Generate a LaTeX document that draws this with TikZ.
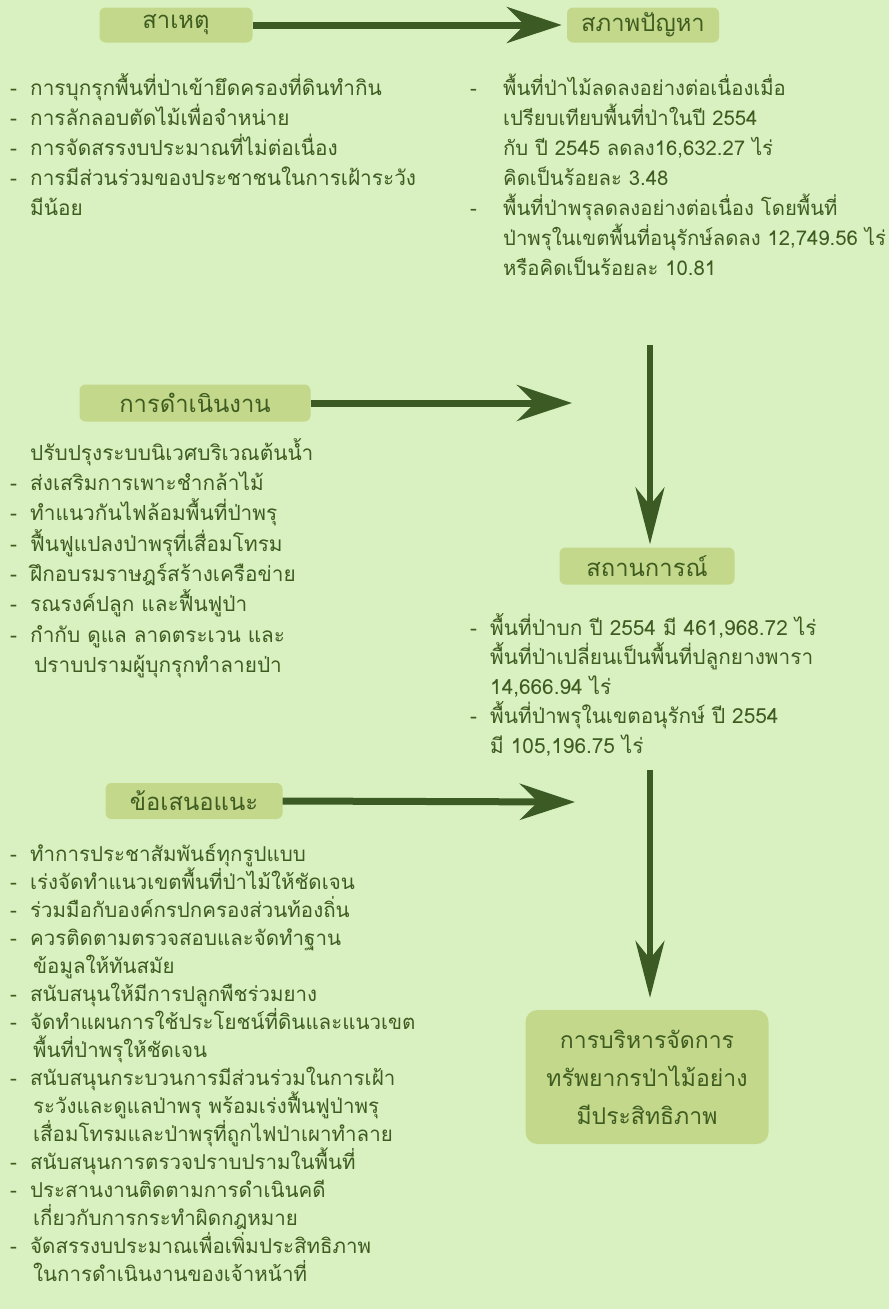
\documentclass[tikz,border=0pt]{standalone}
\usepackage{fontspec}
\newfontfamily\thai[Script=Thai]{Loma}
\usetikzlibrary{arrows.meta}
\definecolor{bg}{HTML}{D9F0C1}
\definecolor{boxfill}{HTML}{C3D88B}
\definecolor{arr}{HTML}{3C5A24}
\definecolor{txt}{HTML}{3F5C20}
\newcommand\dsh[1]{\makebox[#1][l]{-}}
\newcommand\ind[1]{\makebox[#1]{}}
\begin{document}
\begin{tikzpicture}[x=1pt,y=-1pt,
  box/.style={fill=boxfill, rounded corners=6pt, inner sep=0pt, text=txt,
    font=\thai\fontsize{23.8}{28}\selectfont},
  listtext/.style={anchor=north west, inner sep=0pt, align=left, text=txt},
  flow/.style={draw=arr, line width=7pt, -{Stealth[length=55pt,width=36pt,inset=18pt]}},
  vflow/.style={draw=arr, line width=6pt, -{Stealth[length=57pt,width=29pt,inset=18pt]}}]
\fill[bg] (0,0) rectangle (889,1309);
\useasboundingbox (0,0) rectangle (889,1309);

% boxes
\node[box, minimum width=153pt, minimum height=35pt] (cause) at (176,25) {สาเหตุ};
\node[box, minimum width=152pt, minimum height=35pt] (problem) at (643,25) {สภาพปัญหา};
\node[box, minimum width=231pt, minimum height=37pt] (oper) at (195,403) {การดำเนินงาน};
\node[box, minimum width=175pt, minimum height=37pt] (situ) at (647,566) {สถานการณ์};
\node[box, minimum width=177pt, minimum height=36pt] (prop) at (194,801) {ข้อเสนอแนะ};
\node[box, rounded corners=12pt, minimum width=243pt, minimum height=134pt, align=center,
  font=\thai\fontsize{23}{38}\selectfont] (goal) at (647,1077)
  {การบริหารจัดการ\\ทรัพยากรป่าไม้อย่าง\\มีประสิทธิภาพ};

% lists
\node[listtext, font=\thai\fontsize{20.8}{30}\selectfont] (causelist) at (10,73) {%
\dsh{20pt}การบุกรุกพื้นที่ป่าเข้ายึดครองที่ดินทำกิน\\
\dsh{20pt}การลักลอบตัดไม้เพื่อจำหน่าย\\
\dsh{20pt}การจัดสรรงบประมาณที่ไม่ต่อเนื่อง\\
\dsh{20pt}การมีส่วนร่วมของประชาชนในการเฝ้าระวัง\\
\ind{20pt}มีน้อย};

\node[listtext, font=\thai\fontsize{20.3}{30}\selectfont] (problist) at (470,74) {%
\dsh{33pt}พื้นที่ป่าไม้ลดลงอย่างต่อเนื่องเมื่อ\\
\ind{33pt}เปรียบเทียบพื้นที่ป่าในปี 2554\\
\ind{33pt}กับ ปี 2545 ลดลง16,632.27 ไร่\\
\ind{33pt}คิดเป็นร้อยละ 3.48\\
\dsh{33pt}พื้นที่ป่าพรุลดลงอย่างต่อเนื่อง โดยพื้นที่\\
\ind{33pt}ป่าพรุในเขตพื้นที่อนุรักษ์ลดลง 12,749.56 ไร่\\
\ind{33pt}หรือคิดเป็นร้อยละ 10.81};

\node[listtext, font=\thai\fontsize{20.8}{30.3}\selectfont] (operlist) at (10,438) {%
\ind{20pt}ปรับปรุงระบบนิเวศบริเวณต้นน้ำ\\
\dsh{20pt}ส่งเสริมการเพาะชำกล้าไม้\\
\dsh{20pt}ทำแนวกันไฟล้อมพื้นที่ป่าพรุ\\
\dsh{20pt}ฟื้นฟูแปลงป่าพรุที่เสื่อมโทรม\\
\dsh{20pt}ฝึกอบรมราษฎร์สร้างเครือข่าย\\
\dsh{20pt}รณรงค์ปลูก และฟื้นฟูป่า\\
\dsh{20pt}กำกับ ดูแล ลาดตระเวน และ\\
\ind{24pt}ปราบปรามผู้บุกรุกทำลายป่า};

\node[listtext, font=\thai\fontsize{20.8}{29.5}\selectfont] (situlist) at (470,613) {%
\dsh{20pt}พื้นที่ป่าบก ปี 2554 มี 461,968.72 ไร่\\
\ind{20pt}พื้นที่ป่าเปลี่ยนเป็นพื้นที่ปลูกยางพารา\\
\ind{20pt}14,666.94 ไร่\\
\dsh{20pt}พื้นที่ป่าพรุในเขตอนุรักษ์ ปี 2554\\
\ind{20pt}มี 105,196.75 ไร่};

\node[listtext, font=\thai\fontsize{20.5}{28}\selectfont] (proplist) at (10,843) {%
\dsh{20pt}ทำการประชาสัมพันธ์ทุกรูปแบบ\\
\dsh{20pt}เร่งจัดทำแนวเขตพื้นที่ป่าไม้ให้ชัดเจน\\
\dsh{20pt}ร่วมมือกับองค์กรปกครองส่วนท้องถิ่น\\
\dsh{20pt}ควรติดตามตรวจสอบและจัดทำฐาน\\
\ind{23pt}ข้อมูลให้ทันสมัย\\
\dsh{20pt}สนับสนุนให้มีการปลูกพืชร่วมยาง\\
\dsh{20pt}จัดทำแผนการใช้ประโยชน์ที่ดินและแนวเขต\\
\ind{23pt}พื้นที่ป่าพรุให้ชัดเจน\\
\dsh{20pt}สนับสนุนกระบวนการมีส่วนร่วมในการเฝ้า\\
\ind{23pt}ระวังและดูแลป่าพรุ พร้อมเร่งฟื้นฟูป่าพรุ\\
\ind{23pt}เสื่อมโทรมและป่าพรุที่ถูกไฟป่าเผาทำลาย\\
\dsh{20pt}สนับสนุนการตรวจปราบปรามในพื้นที่\\
\dsh{20pt}ประสานงานติดตามการดำเนินคดี\\
\ind{23pt}เกี่ยวกับการกระทำผิดกฎหมาย\\
\dsh{20pt}จัดสรรงบประมาณเพื่อเพิ่มประสิทธิภาพ\\
\ind{23pt}ในการดำเนินงานของเจ้าหน้าที่};

% connectors
\coordinate (v1top) at (650,345);
\coordinate (a2end) at (572,403);
\coordinate (v2top) at (650,770);
\coordinate (a3end) at (575,802);
\draw[flow] (cause.east) -- ([xshift=-5pt]problem.west);
\draw[flow] (oper.east) -- (a2end);
\draw[vflow] (v1top) -- ([yshift=3pt]situ.north -| v1top);
\draw[flow] (prop.east) -- (a3end);
\draw[vflow] (v2top) -- ([yshift=12pt]goal.north -| v2top);
\end{tikzpicture}
\end{document}
